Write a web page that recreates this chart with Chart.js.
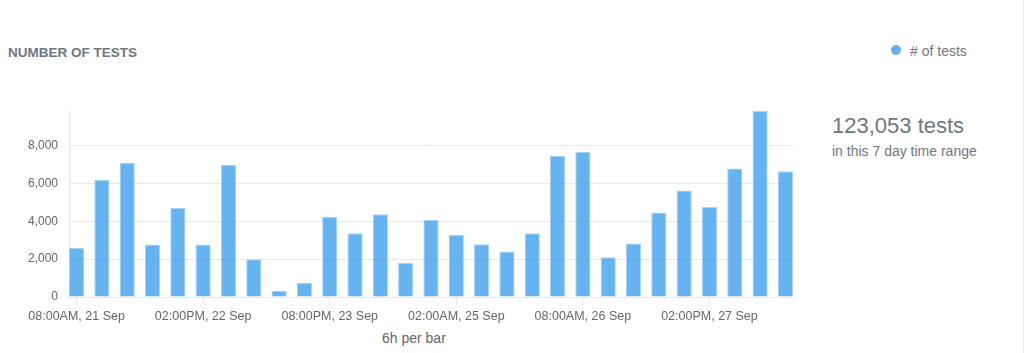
<!DOCTYPE html>
<html>
<head>
<meta charset="utf-8">
<script src="https://cdn.jsdelivr.net/npm/chart.js@4/dist/chart.umd.min.js"></script>
<style>
  html, body { margin: 0; padding: 0; background: #fff; }
  body { width: 1024px; height: 353px; position: relative; overflow: hidden;
         font-family: "Helvetica Neue", Helvetica, Arial, "Liberation Sans", sans-serif; }
  .txt { position: absolute; line-height: 1; white-space: nowrap; color: #6f7780; }
  #title { left: 8px; top: 46px; font-size: 13.5px; font-weight: bold; }
  #legendDot { position: absolute; left: 891px; top: 45px; width: 10px; height: 10px;
               border-radius: 50%; background: #64b1f2; }
  #legendText { left: 910px; top: 44px; font-size: 14px; }
  #total { left: 832px; top: 115px; font-size: 22px; }
  #range { left: 832px; top: 144px; font-size: 14px; }
  #perBar { left: 382px; top: 331px; font-size: 14px; color: #666; }
  #chartBox { position: absolute; left: 0; top: 0; width: 793px; height: 353px; }
  #edge { position: absolute; left: 1023px; top: 0; width: 1px; height: 353px; background: #ececec; }
</style>
</head>
<body>
<div id="title" class="txt">NUMBER OF TESTS</div>
<div id="legendDot"></div>
<div id="legendText" class="txt"># of tests</div>
<div id="total" class="txt">123,053 tests</div>
<div id="range" class="txt">in this 7 day time range</div>
<div id="perBar" class="txt">6h per bar</div>
<div id="chartBox"><canvas id="myChart"></canvas></div>
<div id="edge"></div>

<script>
// one bar per 6 hours, starting 08:00AM 21 Sep
var tests = [
  2600, 6200, 7100, 2770, 4700, 2770, 6980, 2000, 320, 740,
  4230, 3370, 4370, 1800, 4070, 3280, 2790, 2400, 3370, 7470,
  7680, 2100, 2830, 4470, 5630, 4750, 6790, 9830, 6650
];
var tickBars = [0, 5, 10, 15, 20, 25];
var tickLabels = [
  '08:00AM, 21 Sep', '02:00PM, 22 Sep', '08:00PM, 23 Sep',
  '02:00AM, 25 Sep', '08:00AM, 26 Sep', '02:00PM, 27 Sep'
];
var yTicks = [0, 2000, 4000, 6000, 8000];

var tickColor = '#666';
var lineColor = '#e9e9e9';

function createChart() {
  var ctx = document.getElementById('myChart').getContext('2d');
  var points = tests.map(function (v, i) { return { x: i, y: v }; });

  new Chart(ctx, {
    type: 'bar',
    data: {
      datasets: [{
        label: '# of tests',
        data: points,
        backgroundColor: 'rgba(51,153,238,0.75)',
        borderColor: 'rgba(170,210,246,1)',
        borderWidth: 1,
        categoryPercentage: 1,
        barPercentage: 0.6
      }]
    },
    options: {
      responsive: true,
      maintainAspectRatio: false,
      animation: false,
      layout: { padding: { top: 111, right: 0, bottom: 0, left: 0 } },
      plugins: {
        legend: { display: false },
        tooltip: { enabled: false }
      },
      scales: {
        x: {
          type: 'linear',
          min: -0.3,
          max: tests.length - 0.7,
          offset: false,
          grid: { display: true, drawOnChartArea: false, drawTicks: true, tickLength: 8, color: lineColor, offset: false },
          border: { display: true, color: lineColor },
          ticks: {
            color: tickColor,
            padding: 4,
            maxRotation: 0,
            autoSkip: false,
            font: { family: '"Helvetica Neue", Helvetica, Arial, sans-serif', size: 12.5 },
            callback: function (value, index) { return tickLabels[index]; }
          },
          afterBuildTicks: function (scale) {
            scale.ticks = tickBars.map(function (b) { return { value: b }; });
          },
          afterFit: function (scale) { scale.height = 56; }
        },
        y: {
          min: 0,
          max: Math.max.apply(null, tests),
          grid: { drawTicks: false, color: lineColor },
          border: { display: true, color: lineColor },
          ticks: {
            padding: 11,
            color: tickColor,
            font: { family: '"Helvetica Neue", Helvetica, Arial, sans-serif', size: 12 },
            callback: function (value) { return Number(value).toLocaleString('en-US'); }
          },
          afterBuildTicks: function (scale) {
            scale.ticks = yTicks.map(function (v) { return { value: v }; });
          },
          afterFit: function (scale) { scale.width = 69; }
        }
      }
    }
  });
}

createChart();
</script>
</body>
</html>
